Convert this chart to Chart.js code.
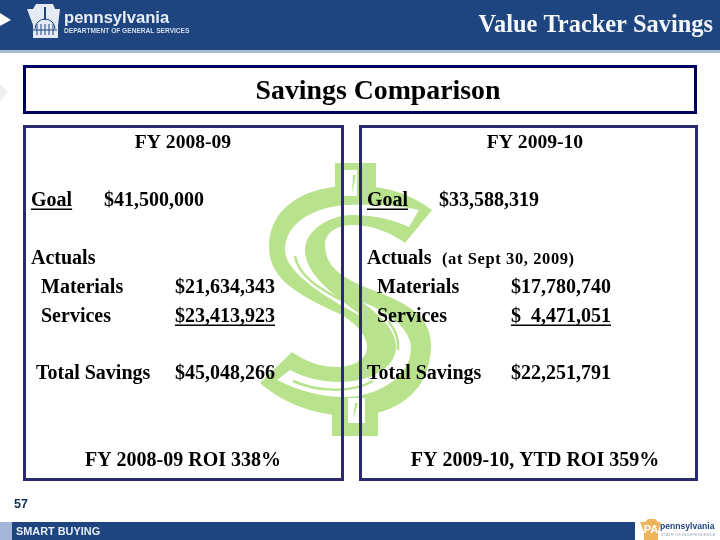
<!DOCTYPE html>
<html>
<head>
<meta charset="utf-8">
<title>Value Tracker Savings</title>
<script src="https://cdn.jsdelivr.net/npm/chart.js@4"></script>
<style>
  html, body { margin: 0; padding: 0; background: #fff; }
  canvas { display: block; }
</style>
</head>
<body>
<canvas id="myChart" width="720" height="540"></canvas>
<script>
// values
const fiscal_years = ['FY 2008-09', 'FY 2009-10'];
const goals = [41500000, 33588319];
const materials = [21634343, 17780740];
const services = [23413923, 4471051];
const total_savings = [45048266, 22251791];
const roi_percent = [338, 359];
const roi_labels = ['FY 2008-09 ROI', 'FY 2009-10, YTD ROI'];
const row_labels = ['Goal', 'Actuals', 'Materials', 'Services', 'Total Savings'];

// slide layout, in pixels of the 720x540 page
const serif = '"Liberation Serif", serif';
const sans = '"Liberation Sans", sans-serif';
const panel_left = [25, 360];
const panel_center = [183, 535];
const goal_x = [104, 439];
const value_x = [175, 511];
const row_y = { fy: 143, goal: 201, actuals: 259, materials: 288, services: 317, total: 374, roi: 461 };

function money(v) {
  const s = v.toLocaleString('en-US');
  return v < 10000000 ? '$  ' + s : '$' + s;
}

function text(ctx, str, x, y, o) {
  o = o || {};
  ctx.font = (o.weight || 'bold') + ' ' + (o.size || 20) + 'px ' + (o.family || serif);
  ctx.fillStyle = o.color || '#000';
  ctx.textAlign = o.align || 'left';
  ctx.textBaseline = 'middle';
  ctx.letterSpacing = (o.spacing || 0) + 'px';
  ctx.fillText(str, x, y);
  if (o.underline) {
    const w = ctx.measureText(str).width;
    ctx.fillRect(x, y + 7.5, w, 1.5);
  }
  ctx.letterSpacing = '0px';
}

function poly(ctx, pts, color) {
  ctx.fillStyle = color;
  ctx.beginPath();
  pts.forEach((p, i) => i ? ctx.lineTo(p[0], p[1]) : ctx.moveTo(p[0], p[1]));
  ctx.closePath();
  ctx.fill();
}

// big dollar sign behind the two panels
function dollar(ctx) {
  const green = '#b8e38c';
  ctx.fillStyle = green;
  ctx.fillRect(335, 163, 41, 28);
  ctx.fillRect(332, 408, 46, 28);

  ctx.beginPath();
  ctx.moveTo(432, 210);
  ctx.bezierCurveTo(410, 194, 385, 184, 345, 186);
  ctx.bezierCurveTo(300, 188, 269, 210, 269, 247);
  ctx.bezierCurveTo(269, 280, 300, 296, 342, 315);
  ctx.bezierCurveTo(355, 323, 367, 335, 367, 347);
  ctx.bezierCurveTo(367, 360, 352, 367, 337, 367);
  ctx.bezierCurveTo(320, 367, 305, 361, 292, 352);
  ctx.lineTo(260, 383);
  ctx.bezierCurveTo(280, 400, 305, 413, 345, 416);
  ctx.bezierCurveTo(395, 418, 431, 392, 431, 345);
  ctx.bezierCurveTo(431, 315, 405, 302, 370, 289);
  ctx.bezierCurveTo(345, 279, 325, 268, 325, 245);
  ctx.bezierCurveTo(325, 232, 338, 225, 352, 225);
  ctx.bezierCurveTo(372, 225, 390, 232, 405, 243);
  ctx.closePath();
  ctx.fill();

  // white streaks inside the band
  ctx.fillStyle = '#fff';
  ctx.beginPath();
  ctx.moveTo(419, 210);
  ctx.bezierCurveTo(400, 205, 370, 204, 345, 205);
  ctx.bezierCurveTo(310, 208, 285, 225, 285, 250);
  ctx.bezierCurveTo(285, 272, 325, 298, 365, 318);
  ctx.bezierCurveTo(335, 296, 305, 275, 305, 250);
  ctx.bezierCurveTo(305, 230, 330, 215, 352, 215);
  ctx.bezierCurveTo(372, 215, 392, 219, 409, 227);
  ctx.closePath();
  ctx.fill();

  ctx.beginPath();
  ctx.moveTo(362, 302);
  ctx.bezierCurveTo(390, 312, 411, 330, 411, 348);
  ctx.bezierCurveTo(411, 378, 375, 397, 345, 397);
  ctx.bezierCurveTo(320, 397, 297, 390, 277, 380);
  ctx.lineTo(290, 370);
  ctx.bezierCurveTo(305, 378, 322, 382, 340, 382);
  ctx.bezierCurveTo(370, 382, 396, 368, 396, 347);
  ctx.bezierCurveTo(396, 330, 380, 315, 362, 302);
  ctx.closePath();
  ctx.fill();

  poly(ctx, [[344, 170], [357, 170], [357, 196], [344, 196]], '#fff');
  poly(ctx, [[348, 398], [365, 398], [365, 423], [348, 423]], '#fff');

  // thin green slivers inside the white
  poly(ctx, [[353, 175], [356, 175], [352, 193]], green);
  poly(ctx, [[355, 403], [358, 403], [353, 420]], green);
  ctx.strokeStyle = green;
  ctx.lineWidth = 2.5;
  ctx.beginPath();
  ctx.moveTo(295, 256);
  ctx.bezierCurveTo(298, 275, 318, 288, 341, 300);
  ctx.moveTo(388, 321);
  ctx.bezierCurveTo(396, 330, 399, 340, 398, 350);
  ctx.moveTo(293, 381);
  ctx.bezierCurveTo(315, 391, 350, 394, 373, 381);
  ctx.stroke();
}

function logos(ctx) {
  // keystone of the header logo
  poly(ctx, [[27, 9], [33, 9], [36, 4], [53, 4], [55, 9], [60, 9], [58, 25], [58, 38], [33, 38], [33, 25]], '#e4ebf3');
  ctx.strokeStyle = '#1f4580';
  ctx.lineWidth = 1;
  ctx.beginPath();
  ctx.arc(45, 29, 10, Math.PI, 0);
  ctx.moveTo(33, 30); ctx.lineTo(57, 30);
  [37, 41, 45, 49, 53].forEach(x => { ctx.moveTo(x, 24); ctx.lineTo(x, 35); });
  ctx.stroke();
  ctx.fillStyle = '#1f4580';
  ctx.fillRect(44, 7, 2, 13);
  text(ctx, 'pennsylvania', 64, 18, { family: sans, size: 16.6, color: '#e8eef5' });
  text(ctx, 'DEPARTMENT OF GENERAL SERVICES', 64, 31.5, { family: sans, size: 6.6, color: '#d3deea' });

  // footer keystone
  poly(ctx, [[640, 522], [645, 522], [648, 519], [655, 519], [658, 522], [661, 522], [658, 532], [658, 540], [644, 540], [644, 532]], '#eeb45c');
  text(ctx, 'PA', 651, 530, { family: sans, size: 11, color: '#fff', align: 'center' });
  text(ctx, 'pennsylvania', 660, 527, { family: sans, size: 8.6, color: '#1f4580' });
  text(ctx, 'STATE OF INDEPENDENCE', 661, 535, { family: sans, size: 3.9, weight: 'normal', color: '#9aa4b4', spacing: 0.2 });
}

const slide_plugin = {
  id: 'slide',
  beforeDatasetsDraw(chart) {
    const ctx = chart.ctx;
    ctx.save();
    // header and footer bands
    ctx.fillStyle = '#fff';
    ctx.fillRect(0, 0, 720, 540);
    ctx.fillStyle = '#1f4580';
    ctx.fillRect(0, 0, 720, 50);
    ctx.fillStyle = '#a9bdd4';
    ctx.fillRect(0, 50, 720, 3);
    ctx.fillStyle = '#a3b6d8';
    ctx.fillRect(0, 522, 12, 18);
    ctx.fillStyle = '#1f4580';
    ctx.fillRect(12, 522, 623, 18);

    poly(ctx, [[0, 13], [11, 20], [0, 26]], '#fff');
    poly(ctx, [[0, 84], [8, 92], [0, 102]], '#eeeeee');

    dollar(ctx);

    // boxes
    ctx.strokeStyle = '#000060';
    ctx.lineWidth = 3;
    ctx.strokeRect(24.5, 66.5, 671, 46);
    ctx.strokeStyle = '#2b2a6c';
    ctx.strokeRect(24.5, 126.5, 318, 353);
    ctx.strokeRect(360.5, 126.5, 336, 353);

    logos(ctx);

    text(ctx, 'Value Tracker Savings', 713, 26, { size: 24.4, color: '#f4f7fa', align: 'right' });
    text(ctx, 'Savings Comparison', 378, 92, { size: 27.8, align: 'center' });
    text(ctx, '57', 14, 504.5, { family: sans, size: 12.5, color: '#12304f' });
    text(ctx, 'SMART BUYING', 16, 531.5, { family: sans, size: 10.9, color: '#e8eef5' });
    ctx.restore();
  },
  afterDatasetsDraw(chart) {
    const ctx = chart.ctx;
    ctx.save();
    const x = chart.scales.x, y = chart.scales.y;
    fiscal_years.forEach((fy, i) => {
      const left = x.getPixelForValue(panel_left[i]);
      const lx = i === 0 ? 31 : left + 7;
      text(ctx, fy, x.getPixelForValue(panel_center[i]), y.getPixelForValue(row_y.fy), { align: 'center', size: 19.6 });
      text(ctx, row_labels[0], lx, y.getPixelForValue(row_y.goal), { underline: true });
      text(ctx, row_labels[1], lx, y.getPixelForValue(row_y.actuals));
      text(ctx, row_labels[2], lx + 10, y.getPixelForValue(row_y.materials));
      text(ctx, row_labels[3], lx + 10, y.getPixelForValue(row_y.services));
      text(ctx, row_labels[4], i === 0 ? lx + 5 : lx, y.getPixelForValue(row_y.total));
      text(ctx, roi_labels[i] + ' ' + roi_percent[i] + '%', x.getPixelForValue(panel_center[i]), y.getPixelForValue(row_y.roi), { align: 'center' });

      // the money values sit on the points of the datasets
      chart.getDatasetMeta(i).data.forEach((pt, j) => {
        const ds = chart.data.datasets[i].data[j];
        text(ctx, money(ds.value), pt.x, pt.y, { underline: ds.key === 'services' });
      });
    });
    text(ctx, '(at Sept 30, 2009)', x.getPixelForValue(442), y.getPixelForValue(row_y.actuals) + 1, { size: 16.5, spacing: 0.6 });
    ctx.restore();
  }
};

function points_for(i) {
  return [
    { x: goal_x[i], y: row_y.goal, value: goals[i], key: 'goal' },
    { x: value_x[i], y: row_y.materials, value: materials[i], key: 'materials' },
    { x: value_x[i], y: row_y.services, value: services[i], key: 'services' },
    { x: value_x[i], y: row_y.total, value: total_savings[i], key: 'total' }
  ];
}

const config = {
  type: 'scatter',
  data: {
    datasets: fiscal_years.map((fy, i) => ({
      label: fy,
      data: points_for(i),
      pointRadius: 0
    }))
  },
  options: {
    responsive: false,
    animation: false,
    devicePixelRatio: 1,
    layout: { padding: 0 },
    plugins: { legend: { display: false }, tooltip: { enabled: false } },
    scales: {
      x: { type: 'linear', min: 0, max: 720, display: false },
      y: { type: 'linear', min: 0, max: 540, reverse: true, display: false }
    }
  },
  plugins: [slide_plugin]
};

const myChart = new Chart(document.getElementById('myChart'), config);
</script>
</body>
</html>
